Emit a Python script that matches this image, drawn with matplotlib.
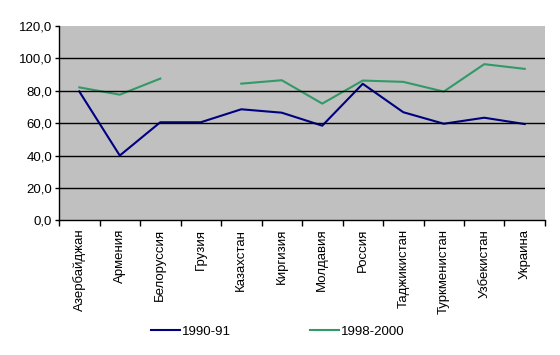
import matplotlib
matplotlib.use('Agg')
import matplotlib.pyplot as plt
import numpy as np

countries = ['Азербайджан', 'Армения', 'Белоруссия', 'Грузия', 'Казахстан',
             'Киргизия', 'Молдавия', 'Россия', 'Таджикистан', 'Туркменистан',
             'Узбекистан', 'Украина']
y1990 = [79.5, 40.0, 60.5, 60.5, 68.5, 66.4, 58.4, 84.2, 66.7, 59.6, 63.3, 59.4]
y1998 = [82.0, 77.5, 87.4, np.nan, 84.3, 86.4, 72.0, 86.2, 85.4, 79.4, 96.3, 93.4]
yticks = [0, 20, 40, 60, 80, 100, 120]

plt.rcParams['font.family'] = ['Liberation Sans', 'DejaVu Sans']
fs = 9.5

fig = plt.figure(figsize=(5.6, 3.55), dpi=100)
ax = fig.add_axes([0.1054, 0.379, 0.8678, 0.5486])
ax.set_facecolor('#c0c0c0')

x = np.arange(len(countries))
ax.plot(x, y1990, color='#000080', lw=1.5, label='1990-91')
ax.plot(x, y1998, color='#339966', lw=1.5, label='1998-2000')

ax.set_xlim(-0.5, len(countries) - 0.5)
ax.set_ylim(0, 120)
ax.set_yticks(yticks)
ax.set_yticklabels([('%.1f' % v).replace('.', ',') for v in yticks])
for v in yticks[1:-1]:
    ax.axhline(v, color='black', lw=1)

ax.set_xticks(np.arange(len(countries) + 1) - 0.5)
ax.set_xticklabels([])
ax.set_xticks(x, minor=True)
ax.set_xticklabels(countries, minor=True, rotation=90)
ax.tick_params(axis='x', which='minor', length=0, pad=6, labelsize=fs)
ax.tick_params(axis='x', which='major', length=4, width=1, direction='out')
ax.tick_params(axis='y', length=3, width=1, direction='out', labelsize=fs, pad=2)

for s in ['top', 'right']:
    ax.spines[s].set_visible(False)
for s in ['left', 'bottom']:
    ax.spines[s].set_linewidth(1)

ax.legend(loc='center', bbox_to_anchor=(0.45, -0.572), ncol=2, frameon=False,
          fontsize=fs, handlelength=2.2, columnspacing=6.0, handletextpad=0.15)

fig.savefig('out.png', dpi=100)
